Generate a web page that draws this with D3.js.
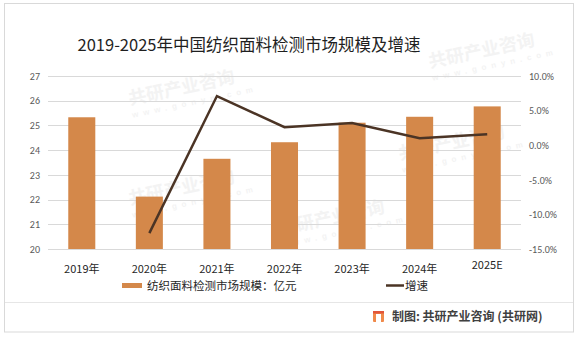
<!DOCTYPE html>
<html>
<head>
<meta charset="utf-8">
<script src="https://cdn.jsdelivr.net/npm/d3@7/dist/d3.min.js"></script>
<style>
  html, body { margin: 0; padding: 0; background: #fff; }
  svg { display: block; font-family: "Noto Sans CJK SC", "Microsoft YaHei", sans-serif; }
</style>
</head>
<body>
<svg id="chart" width="579" height="338"></svg>
<script>
// Chart data
const years = ["2019年", "2020年", "2021年", "2022年", "2023年", "2024年", "2025E"];
const marketSize = [25.33, 22.12, 23.65, 24.32, 25.11, 25.35, 25.77];   // 亿元
const growthRate = [null, -12.7, 7.1, 2.6, 3.2, 1.0, 1.6];              // %
const leftTicks = [20, 21, 22, 23, 24, 25, 26, 27];
const rightTicks = [-15, -10, -5, 0, 5, 10];

const svg = d3.select("#chart");
const plot = { left: 48, right: 521, top: 76, bottom: 249 };

// Outer frame and footer separator
svg.append("rect").attr("x", 4.5).attr("y", 3.5).attr("width", 569).attr("height", 328.5)
  .attr("fill", "none").attr("stroke", "#d9d9d9").attr("stroke-width", 1);
svg.append("line").attr("x1", 5).attr("x2", 573).attr("y1", 302.5).attr("y2", 302.5)
  .attr("stroke", "#e6e6e6");

// Faint background watermarks
const wm = svg.append("g").attr("fill", "#f3f3f3").attr("font-weight", "bold");
[[130, 105], [430, 68], [130, 205], [400, 160], [280, 235]].forEach(([x, y]) => {
  const g = wm.append("g").attr("transform", `translate(${x},${y}) rotate(-12)`);
  g.append("text").attr("font-size", 18).text("共研产业咨询");
  g.append("text").attr("y", 13).attr("font-size", 8).attr("letter-spacing", 5)
    .attr("font-family", "Arial, sans-serif").text("www.gonyn.com");
});

// Title
svg.append("text").attr("x", 249).attr("y", 51).attr("text-anchor", "middle")
  .attr("font-size", 16.5).attr("fill", "#1f1f1f").text("2019-2025年中国纺织面料检测市场规模及增速");

// Scales
const x = d3.scaleBand().domain(years).range([plot.left, plot.right]).paddingInner(0.6).paddingOuter(0.3);
const xc = d => x(d) + x.bandwidth() / 2;
const yL = d3.scaleLinear().domain([20, 27]).range([plot.bottom, plot.top]);
const yR = d3.scaleLinear().domain([-15, 10]).range([plot.bottom, plot.top]);

// Gridlines
svg.append("g").selectAll("line").data(leftTicks).join("line")
  .attr("x1", plot.left).attr("x2", plot.right)
  .attr("y1", d => Math.round(yL(d)) + 0.5).attr("y2", d => Math.round(yL(d)) + 0.5)
  .attr("stroke", "#d9d9d9").attr("stroke-width", 1);

// Left axis
const axL = svg.append("g").attr("transform", `translate(${plot.left},0)`)
  .call(d3.axisLeft(yL).tickValues(leftTicks).tickSize(0).tickPadding(8).tickFormat(d3.format("d")));
axL.select(".domain").remove();
axL.selectAll("text").attr("font-size", 10).attr("fill", "#595959")
  .attr("font-family", "Calibri, Carlito, 'Liberation Sans', sans-serif");

// Right axis
const axR = svg.append("g").attr("transform", `translate(${plot.right},0)`)
  .call(d3.axisRight(yR).tickValues(rightTicks).tickSize(0).tickPadding(8).tickFormat(d => d.toFixed(1) + "%"));
axR.select(".domain").remove();
axR.selectAll("text").attr("font-size", 10).attr("fill", "#595959")
  .attr("font-family", "Calibri, Carlito, 'Liberation Sans', sans-serif");

// Bars
svg.append("g").selectAll("rect").data(marketSize).join("rect")
  .attr("x", (d, i) => x(years[i])).attr("width", x.bandwidth())
  .attr("y", d => yL(d)).attr("height", d => yL(20) - yL(d))
  .attr("fill", "#d4884a");

// Growth line
const line = d3.line().defined(d => d.v !== null).x(d => xc(d.k)).y(d => yR(d.v));
svg.append("path").datum(years.map((k, i) => ({ k, v: growthRate[i] })))
  .attr("d", line).attr("fill", "none").attr("stroke", "#4b3425").attr("stroke-width", 2.5)
  .attr("stroke-linejoin", "miter");

// Category labels
svg.append("g").selectAll("text").data(years).join("text")
  .attr("x", d => xc(d)).attr("y", d => d === "2025E" ? 269 : 273)
  .attr("text-anchor", "middle").attr("font-size", 11).attr("fill", "#262626").text(d => d);

// Legend
const lg = svg.append("g");
lg.append("rect").attr("x", 122).attr("y", 283).attr("width", 20).attr("height", 5).attr("fill", "#d4884a");
lg.append("text").attr("x", 147).attr("y", 290).attr("font-size", 11.5).attr("fill", "#262626")
  .text("纺织面料检测市场规模：亿元");
lg.append("line").attr("x1", 386).attr("x2", 404).attr("y1", 285.5).attr("y2", 285.5)
  .attr("stroke", "#4b3425").attr("stroke-width", 2.5);
lg.append("text").attr("x", 405).attr("y", 290).attr("font-size", 11.5).attr("fill", "#262626").text("增速");

// Source credit with logo mark
const logo = svg.append("g").attr("transform", "translate(373,311)");
logo.append("rect").attr("width", 11).attr("height", 11).attr("fill", "#f08a4b").attr("rx", 1);
logo.append("rect").attr("x", 3).attr("y", 3).attr("width", 5).attr("height", 8).attr("fill", "#fff");
logo.append("rect").attr("x", 0).attr("y", 0).attr("width", 11).attr("height", 2.5).attr("fill", "#e2563a");
svg.append("text").attr("x", 392).attr("y", 321).attr("font-size", 12).attr("font-weight", "bold")
  .attr("fill", "#404040").text("制图: 共研产业咨询 (共研网)");
</script>
</body>
</html>
